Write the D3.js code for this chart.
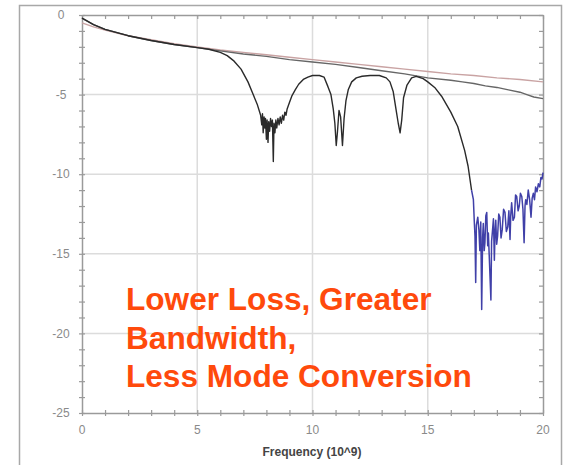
<!DOCTYPE html>
<html>
<head>
<meta charset="utf-8">
<script src="https://cdn.jsdelivr.net/npm/d3@7"></script>
<style>
  html, body { margin: 0; padding: 0; background: #fff; }
  svg { display: block; font-family: "Liberation Sans", Arial, sans-serif; }
</style>
</head>
<body>
<div id="chart"></div>
<script>
// Tick values
const xTicks = [0, 5, 10, 15, 20];
const yTicks = [0, -5, -10, -15, -20, -25];

// Reference line (pinkish, nearly straight) [GHz, dB]
const refFreq = [0, 0.5, 1, 2, 3, 4, 5, 6, 7, 8, 9, 10, 11, 12, 13, 14, 15, 16, 17, 18, 19, 20];
const refLoss = [-0.5, -0.75, -0.95, -1.3, -1.55, -1.8, -2.0, -2.2, -2.35, -2.5, -2.65, -2.8, -2.95, -3.1, -3.25, -3.4, -3.55, -3.7, -3.8, -3.95, -4.05, -4.2];

// Smooth thru line (grey)
const thruFreq = [0, 0.5, 1, 2, 3, 4, 5, 6, 7, 8, 9, 10, 11, 12, 13, 14, 15, 16, 16.5, 17, 17.5, 18, 18.5, 19, 19.3, 19.6, 20];
const thruLoss = [-0.2, -0.6, -0.9, -1.3, -1.6, -1.85, -2.05, -2.25, -2.45, -2.6, -2.8, -2.95, -3.1, -3.3, -3.5, -3.7, -3.95, -4.1, -4.2, -4.3, -4.45, -4.55, -4.7, -4.85, -5.0, -5.15, -5.25];

// Resonant line with notches (black)
const notchFreq = [0, 0.5, 1, 2, 3, 4, 5, 5.5, 6.0, 6.3, 6.6, 6.9, 7.2, 7.4, 7.6, 7.75,
  7.8, 7.83, 7.86, 7.9, 7.93, 7.96, 8.0, 8.03, 8.07, 8.1, 8.14, 8.18, 8.22, 8.26, 8.3, 8.33, 8.37, 8.41, 8.45, 8.5, 8.55, 8.6, 8.65, 8.7, 8.75, 8.8, 8.85, 8.9,
  9.0, 9.1, 9.25, 9.4, 9.6, 9.8, 10.0, 10.3, 10.5, 10.67, 10.8, 10.9, 10.97, 11.03, 11.08, 11.15, 11.22, 11.3, 11.37, 11.45, 11.55, 11.7, 11.9, 12.15, 12.5, 12.9,
  13.2, 13.36, 13.5, 13.62, 13.72, 13.8, 13.87, 13.95, 14.1, 14.3, 14.5, 14.8, 15.0, 15.3, 15.6, 16.0, 16.3, 16.6, 16.75, 16.9];
const notchLoss = [-0.2, -0.6, -0.9, -1.3, -1.6, -1.85, -2.05, -2.15, -2.35, -2.55, -2.9, -3.4, -4.2, -4.9, -5.6, -6.3,
  -6.9, -6.2, -7.4, -6.4, -7.1, -6.5, -7.8, -6.6, -8.0, -6.7, -7.3, -6.5, -7.0, -6.6, -9.2, -6.8, -7.4, -6.6, -7.1, -6.5, -6.9, -6.4, -6.8, -6.3, -6.6, -6.1, -6.3, -5.9,
  -5.5, -5.1, -4.7, -4.35, -4.05, -3.9, -3.8, -3.8, -3.9, -4.5, -5.0, -5.9, -6.8, -8.2, -7.4, -6.0, -6.4, -8.2, -6.5, -5.4, -4.7, -4.2, -3.95, -3.85, -3.8, -3.8,
  -3.95, -4.2, -4.8, -5.9, -6.8, -7.4, -6.6, -5.2, -4.4, -3.95, -3.85, -4.0, -4.2, -4.55, -5.1, -6.1, -7.0, -8.5, -9.5, -11.0];

// Noisy tail (blue)
const tailFreq = [16.9, 16.98, 17.02, 17.05, 17.08, 17.11, 17.17, 17.22, 17.26, 17.3, 17.34, 17.38, 17.41, 17.45, 17.48, 17.52, 17.56, 17.6, 17.63, 17.68,
  17.74, 17.77, 17.8, 17.85, 17.89, 17.92, 17.95, 17.99, 18.03, 18.08, 18.13, 18.18, 18.23, 18.29, 18.35, 18.41, 18.47, 18.52, 18.57, 18.6,
  18.64, 18.7, 18.76, 18.81, 18.86, 18.92, 18.97, 19.02, 19.08, 19.13, 19.18, 19.22, 19.25, 19.3, 19.36, 19.42, 19.48, 19.53, 19.58, 19.63,
  19.68, 19.74, 19.8, 19.86, 19.91, 19.96, 20.0];
const tailLoss = [-11.0, -11.6, -13.0, -13.9, -16.8, -13.2, -12.7, -13.5, -14.8, -13.0, -18.5, -14.0, -13.1, -14.8, -14.3, -12.6, -12.4, -14.5, -13.7, -15.6,
  -17.9, -14.2, -13.7, -12.8, -15.4, -13.6, -12.9, -14.4, -13.9, -12.5, -12.7, -14.0, -13.5, -12.2, -12.4, -13.6, -13.3, -12.3, -14.1, -12.6,
  -11.8, -12.9, -12.7, -11.3, -11.4, -12.3, -12.0, -11.2, -11.4, -12.2, -14.3, -12.0, -11.6, -11.9, -11.0, -11.6, -12.7, -11.5, -11.2, -11.6,
  -10.8, -11.1, -10.6, -10.8, -10.2, -10.3, -9.9];

const noteLines = ['Lower Loss, Greater', 'Bandwidth,', 'Less Mode Conversion'];

const W = 565, H = 465;
const plot = { left: 82, right: 543, top: 15, bottom: 413 };

const svg = d3.select('#chart').append('svg')
    .attr('width', W)
    .attr('height', H);

// outer frame
svg.append('rect')
    .attr('x', 19.5).attr('y', 5.5)
    .attr('width', 542).attr('height', 470)
    .attr('fill', '#fff')
    .attr('stroke', '#a8a8a8')
    .attr('stroke-width', 1.5);

const x = d3.scaleLinear().domain([0, 20]).range([plot.left, plot.right]);
const y = d3.scaleLinear().domain([-25, 0]).range([plot.bottom, plot.top]);

// grid
const grid = svg.append('g').attr('stroke', '#dcdcdc').attr('stroke-width', 1.5);
grid.selectAll('.gx').data(xTicks.slice(1, -1)).enter().append('line')
    .attr('x1', d => x(d)).attr('x2', d => x(d))
    .attr('y1', plot.top).attr('y2', plot.bottom);
grid.selectAll('.gy').data(yTicks.slice(1, -1)).enter().append('line')
    .attr('y1', d => y(d)).attr('y2', d => y(d))
    .attr('x1', plot.left).attr('x2', plot.right);

// axes (minor ticks every unit)
const minorX = d3.range(0, 21);
const minorY = d3.range(-25, 1);

function styleAxis(g) {
    g.select('.domain').attr('stroke', '#9a9a9a').attr('stroke-width', 1.5);
    g.selectAll('.tick line').attr('stroke', '#9a9a9a').attr('stroke-width', 1.2);
    g.selectAll('text').remove();
}

svg.append('g').attr('transform', `translate(0,${plot.bottom})`)
    .call(d3.axisBottom(x).tickValues(minorX).tickSizeInner(3).tickSizeOuter(0))
    .call(styleAxis)
    .selectAll('.tick line').attr('y1', -3);
svg.append('g').attr('transform', `translate(${plot.left},0)`)
    .call(d3.axisLeft(y).tickValues(minorY).tickSizeInner(3).tickSizeOuter(0))
    .call(styleAxis)
    .selectAll('.tick line').attr('x1', 3);
svg.append('g').attr('transform', `translate(0,${plot.top})`)
    .call(d3.axisTop(x).tickValues(minorX).tickSizeInner(-4).tickSizeOuter(0))
    .call(styleAxis);
svg.append('g').attr('transform', `translate(${plot.right},0)`)
    .call(d3.axisRight(y).tickValues(minorY).tickSizeInner(-4).tickSizeOuter(0))
    .call(styleAxis);

// major tick labels
svg.append('g').selectAll('text').data(yTicks).enter().append('text')
    .attr('x', 61).attr('y', d => y(d))
    .attr('dy', '0.35em')
    .attr('text-anchor', 'middle')
    .attr('font-size', 12)
    .attr('fill', '#8a8a8a')
    .text(d => d);
svg.append('g').selectAll('text').data(xTicks).enter().append('text')
    .attr('x', d => x(d)).attr('y', 434)
    .attr('text-anchor', 'middle')
    .attr('font-size', 12)
    .attr('fill', '#8a8a8a')
    .text(d => d);

svg.append('text')
    .attr('x', 312).attr('y', 456)
    .attr('text-anchor', 'middle')
    .attr('font-size', 12)
    .attr('font-weight', 'bold')
    .attr('fill', '#444')
    .text('Frequency (10^9)');

// curves
const line = d3.line().x(d => x(d[0])).y(d => y(d[1]));
const zip = (a, b) => a.map((v, i) => [v, b[i]]);
const curves = svg.append('g').attr('fill', 'none').attr('stroke-linejoin', 'round');

curves.append('path').datum(zip(refFreq, refLoss))
    .attr('d', line).attr('stroke', '#c9a3a3').attr('stroke-width', 1.4);
curves.append('path').datum(zip(thruFreq, thruLoss))
    .attr('d', line).attr('stroke', '#666').attr('stroke-width', 1.4);
curves.append('path').datum(zip(notchFreq, notchLoss))
    .attr('d', line).attr('stroke', '#2a2a2a').attr('stroke-width', 1.4);
curves.append('path').datum(zip(tailFreq, tailLoss))
    .attr('d', line).attr('stroke', '#4040a8').attr('stroke-width', 1.5);

// annotation
svg.append('g').selectAll('text').data(noteLines).enter().append('text')
    .attr('x', 126)
    .attr('y', (d, i) => 310 + i * 38.5)
    .attr('font-size', 31.6)
    .attr('font-weight', 'bold')
    .attr('fill', '#ff4a0c')
    .text(d => d);
</script>
</body>
</html>
